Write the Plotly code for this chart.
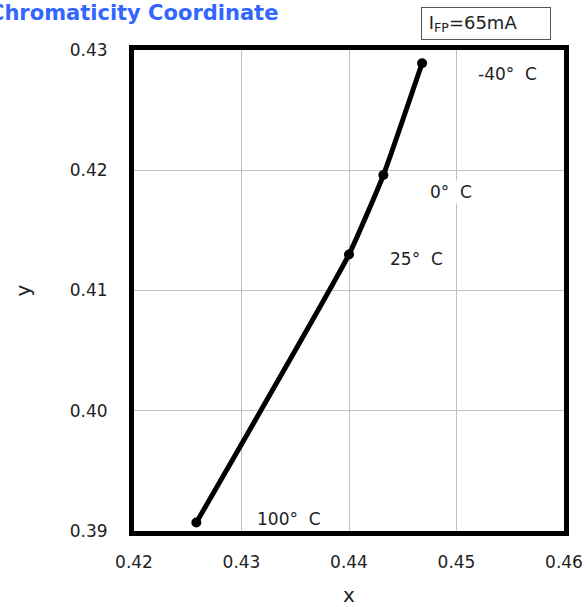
import plotly.graph_objects as go

# chromaticity vs temperature
temps = ["100° \u00a0C", "25° \u00a0C", "0° \u00a0C", "-40° \u00a0C"]
cx = [0.4258, 0.4400, 0.4432, 0.4468]
cy = [0.3907, 0.4130, 0.4196, 0.4289]

# label positions for each temperature (data coords)
lbl_x = [0.4344, 0.4463, 0.4495, 0.4547]
lbl_y = [0.3910, 0.4126, 0.4182, 0.4280]

fig = go.Figure()
fig.add_trace(go.Scatter(
    x=cx, y=cy,
    mode="lines+markers",
    line=dict(color="black", width=5, shape="spline", smoothing=0.4),
    marker=dict(color="black", size=10),
    showlegend=False
))

for t, x, y in zip(temps, lbl_x, lbl_y):
    fig.add_annotation(x=x, y=y, text=t, showarrow=False,
                       font=dict(size=17, color="#222"), bgcolor="white")

#  title (cut off on the left like the source)
fig.add_annotation(xref="paper", yref="paper", x=0.3395, y=1.077,
                   xanchor="right", yanchor="middle", showarrow=False,
                   text="<b>Chromaticity Coordinate</b>",
                   font=dict(size=21, color="#3366ff"))

#  current box
fig.add_annotation(xref="paper", yref="paper", x=0.970, y=1.055,
                   xanchor="right", yanchor="middle", showarrow=False,
                   text="\u00a0I<sub>FP</sub>=65mA", width=126, height=29,
                   align="left", bordercolor="#555", borderwidth=1,
                   bgcolor="white", font=dict(size=18, color="#222"))

fig.update_xaxes(range=[0.42, 0.46], dtick=0.01, tickformat=".2f",
                 showgrid=True, gridcolor="#c0c0c0", gridwidth=1,
                 showline=True, linecolor="black", linewidth=5, mirror=True,
                 ticks="", ticklabelstandoff=12, zeroline=False,
                 automargin=False, title=dict(text="x", standoff=20))
fig.update_yaxes(range=[0.39, 0.43], dtick=0.01, tickformat=".2f",
                 showgrid=True, gridcolor="#c0c0c0", gridwidth=1,
                 showline=True, linecolor="black", linewidth=5, mirror=True,
                 ticks="", ticklabelstandoff=18, zeroline=False,
                 automargin=False, title=dict(text="y", standoff=35))

fig.update_layout(
    width=586, height=607,
    margin=dict(l=134, r=22, t=50, b=76),
    plot_bgcolor="white", paper_bgcolor="white",
    font=dict(family="DejaVu Sans", size=17, color="#222")
)

fig.write_html("out.html", config={"displayModeBar": False},
               post_script="document.body.style.margin='0';")
